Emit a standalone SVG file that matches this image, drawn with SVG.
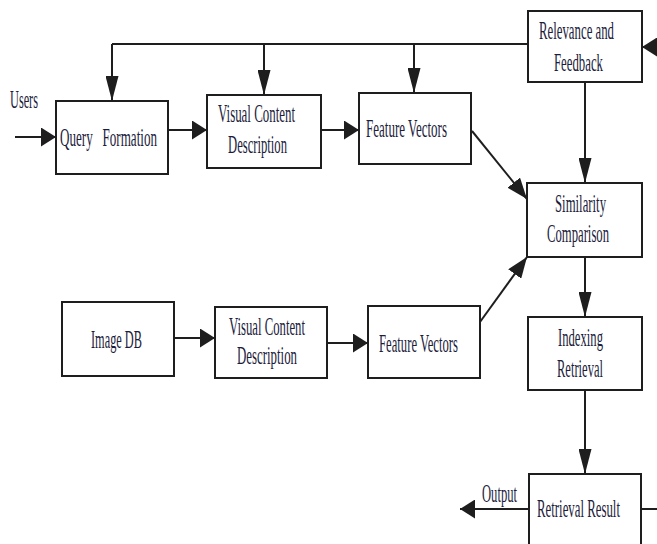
<svg xmlns="http://www.w3.org/2000/svg" width="657" height="544" viewBox="0 0 657 544">
  <style>
    .box { fill: #ffffff; stroke: #1e1e1e; stroke-width: 2; }
    .lbl { font-family: "Liberation Serif", "Times New Roman", serif; font-size: 25px; fill: #1c1c3c; }
    .wire { fill: none; stroke: #1e1e1e; stroke-width: 2; }
    .h { marker-end: url(#arrowH); }
    .v { marker-end: url(#arrowV); }
    .d { marker-end: url(#arrowD); }
  </style>
  <defs>
    <!-- horizontal arrowheads are short and wide, vertical ones long and narrow -->
    <marker id="arrowH" markerUnits="userSpaceOnUse" viewBox="0 0 15 19" refX="15" refY="9.5" markerWidth="15" markerHeight="19" orient="auto">
      <path d="M0,0 L15,9.5 L0,19 z" fill="#1e1e1e"/>
    </marker>
    <marker id="arrowV" markerUnits="userSpaceOnUse" viewBox="0 0 25 13" refX="25" refY="6.5" markerWidth="25" markerHeight="13" orient="auto">
      <path d="M0,0 L25,6.5 L0,13 z" fill="#1e1e1e"/>
    </marker>
    <marker id="arrowD" markerUnits="userSpaceOnUse" viewBox="0 0 21 16" refX="21" refY="8" markerWidth="21" markerHeight="16" orient="auto">
      <path d="M0,0 L21,8 L0,16 z" fill="#1e1e1e"/>
    </marker>
  </defs>

  <rect width="657" height="544" fill="#ffffff"/>

  <g id="connectors">
    <!-- feedback bus across the top -->
    <path class="wire" d="M112,44 L528,44"/>
    <path class="wire v" d="M112,44 L112,101"/>
    <path class="wire v" d="M264,44 L264,95"/>
    <path class="wire v" d="M414,44 L414,93"/>
    <!-- feedback return entering from the right edge -->
    <path class="wire h" d="M660,47 L642,47"/>
    <!-- query path -->
    <path class="wire h" d="M15,137 L56,137"/>
    <path class="wire h" d="M168,130 L207,130"/>
    <path class="wire h" d="M321,130 L359,130"/>
    <path class="wire d" d="M472,131 L527,199"/>
    <!-- database path -->
    <path class="wire h" d="M174,338 L215,338"/>
    <path class="wire h" d="M327,343 L368,343"/>
    <path class="wire d" d="M480,322 L527,257"/>
    <!-- right column -->
    <path class="wire v" d="M585,82 L585,183"/>
    <path class="wire v" d="M585,257 L585,317"/>
    <path class="wire v" d="M585,390 L585,474"/>
    <path class="wire h" d="M529,509 L460,509"/>
    <path class="wire" d="M641,509 L660,509"/>
  </g>

  <text class="lbl" x="10" y="108" textLength="28" lengthAdjust="spacingAndGlyphs">Users</text>
  <text class="lbl" x="482" y="502" textLength="35" lengthAdjust="spacingAndGlyphs">Output</text>

  <g id="query-formation">
    <rect class="box" x="56" y="101" width="112" height="73"/>
    <text class="lbl" x="60" y="146" textLength="97" lengthAdjust="spacingAndGlyphs" xml:space="preserve">Query   Formation</text>
  </g>

  <g id="visual-content-query">
    <rect class="box" x="207" y="95" width="114" height="73"/>
    <text class="lbl" x="218" y="122" textLength="77" lengthAdjust="spacingAndGlyphs">Visual Content</text>
    <text class="lbl" x="228" y="153" textLength="59" lengthAdjust="spacingAndGlyphs">Description</text>
  </g>

  <g id="feature-vectors-query">
    <rect class="box" x="359" y="93" width="112" height="71"/>
    <text class="lbl" x="366" y="137" textLength="81" lengthAdjust="spacingAndGlyphs">Feature Vectors</text>
  </g>

  <g id="relevance-feedback">
    <rect class="box" x="528" y="11" width="114" height="71"/>
    <text class="lbl" x="539" y="39" textLength="75" lengthAdjust="spacingAndGlyphs">Relevance and</text>
    <text class="lbl" x="554" y="71" textLength="49" lengthAdjust="spacingAndGlyphs">Feedback</text>
  </g>

  <g id="similarity-comparison">
    <rect class="box" x="527" y="183" width="115" height="74"/>
    <text class="lbl" x="555" y="212" textLength="51" lengthAdjust="spacingAndGlyphs">Similarity</text>
    <text class="lbl" x="547" y="242" textLength="62" lengthAdjust="spacingAndGlyphs">Comparison</text>
  </g>

  <g id="image-db">
    <rect class="box" x="62" y="302" width="112" height="74"/>
    <text class="lbl" x="91" y="348" textLength="51" lengthAdjust="spacingAndGlyphs">Image DB</text>
  </g>

  <g id="visual-content-db">
    <rect class="box" x="215" y="307" width="112" height="71"/>
    <text class="lbl" x="229" y="335" textLength="76" lengthAdjust="spacingAndGlyphs">Visual Content</text>
    <text class="lbl" x="237" y="364" textLength="60" lengthAdjust="spacingAndGlyphs">Description</text>
  </g>

  <g id="feature-vectors-db">
    <rect class="box" x="368" y="306" width="112" height="72"/>
    <text class="lbl" x="379" y="352" textLength="79" lengthAdjust="spacingAndGlyphs">Feature Vectors</text>
  </g>

  <g id="indexing-retrieval">
    <rect class="box" x="528" y="317" width="114" height="73"/>
    <text class="lbl" x="558" y="346" textLength="45" lengthAdjust="spacingAndGlyphs">Indexing</text>
    <text class="lbl" x="557" y="377" textLength="46" lengthAdjust="spacingAndGlyphs">Retrieval</text>
  </g>

  <g id="retrieval-result">
    <rect class="box" x="529" y="474" width="112" height="90"/>
    <text class="lbl" x="537" y="517" textLength="83" lengthAdjust="spacingAndGlyphs">Retrieval Result</text>
  </g>
</svg>
